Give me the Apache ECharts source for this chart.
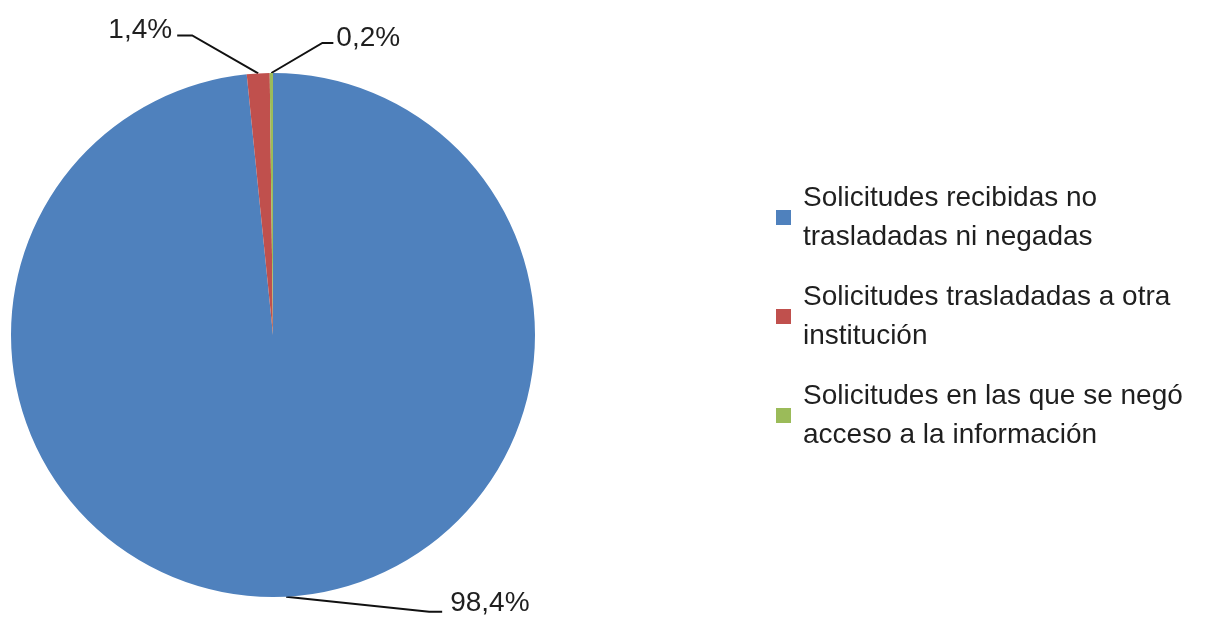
<!DOCTYPE html>
<html>
<head>
<meta charset="utf-8">
<script src="https://cdn.jsdelivr.net/npm/echarts@6/dist/echarts.min.js"></script>
<style>
html,body{margin:0;padding:0;background:#fff;}
#chart{width:1215px;height:619px;}
</style>
</head>
<body>
<div id="chart"></div>
<script>
const categories = [
  'Solicitudes recibidas no trasladadas ni negadas',
  'Solicitudes trasladadas a otra institución',
  'Solicitudes en las que se negó acceso a la información'
];
const legendLines = [
  'Solicitudes recibidas no\ntrasladadas ni negadas',
  'Solicitudes trasladadas a otra\ninstitución',
  'Solicitudes en las que se negó\nacceso a la información'
];
const values = [98.4, 1.4, 0.2];
const valueLabels = ['98,4%', '1,4%', '0,2%'];
const colors = ['#4F81BD', '#C0504D', '#9BBB59'];

// leader-line shape relative to the slice anchor: [first segment, second segment], label offset, align
const leaderShape = [
  { seg: [[143, 15], [13, 0]], off: [8, -8], align: 'left' },
  { seg: [[-66, -38], [-15, 0]], off: [-5, -5], align: 'right' },
  { seg: [[51, -30], [11, 0]], off: [3, -5], align: 'left' }
];

const chart = echarts.init(document.getElementById('chart'));
const FONT = '"Liberation Sans", Arial, sans-serif';

chart.setOption({
  animation: false,
  color: colors,
  legend: {
    orient: 'vertical',
    left: 776,
    top: 159,
    padding: 0,
    itemGap: -18,
    itemWidth: 15,
    itemHeight: 15,
    icon: 'rect',
    data: categories,
    formatter: function (name) { return legendLines[categories.indexOf(name)]; },
    textStyle: {
      fontFamily: FONT,
      fontSize: 28,
      color: '#1f1f1f',
      lineHeight: 39,
      padding: [39, 0, 0, 7]
    }
  },
  series: [{
    type: 'pie',
    center: [273, 335],
    radius: 262,
    startAngle: 90,
    clockwise: true,
    avoidLabelOverlap: false,
    itemStyle: { borderWidth: 0 },
    emphasis: { disabled: true },
    label: {
      show: true,
      position: 'outside',
      fontFamily: FONT,
      fontSize: 28,
      color: '#1f1f1f',
      formatter: function (p) { return valueLabels[p.dataIndex]; }
    },
    labelLine: {
      show: true,
      length: 14,
      length2: 20,
      lineStyle: { color: '#111', width: 2 }
    },
    labelLayout: function (p) {
      const s = p.labelLinePoints[0];
      const sh = leaderShape[p.dataIndex];
      const m = [s[0] + sh.seg[0][0], s[1] + sh.seg[0][1]];
      const e = [m[0] + sh.seg[1][0], m[1] + sh.seg[1][1]];
      return {
        x: e[0] + sh.off[0],
        y: e[1] + sh.off[1],
        align: sh.align,
        verticalAlign: 'middle',
        labelLinePoints: [s, m, e]
      };
    },
    data: categories.map(function (c, i) { return { name: c, value: values[i] }; })
  }]
});
</script>
</body>
</html>
